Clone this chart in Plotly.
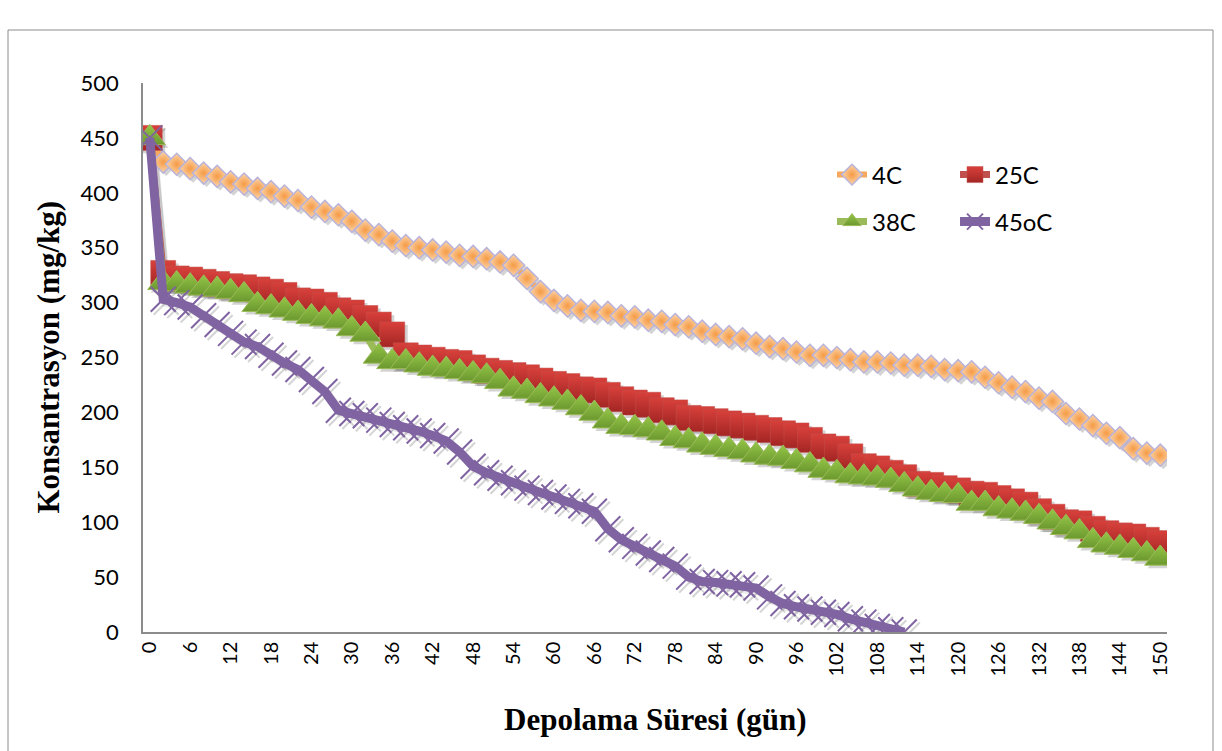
import plotly.graph_objects as go

# ---- data -------------------------------------------------------------
days = list(range(0, 151, 2))                      # storage time (day)
tick_days = list(range(0, 151, 6))
tick_labels = [str(d) for d in tick_days]

c4 = [450, 428, 426, 422, 418, 415, 410, 408, 404, 401,
      397, 393, 387, 383, 380, 374, 366, 362, 356, 352,
      350, 348, 346, 343, 342, 340, 337, 334, 322, 310,
      302, 297, 293, 292, 291, 288, 287, 284, 283, 280,
      278, 274, 271, 269, 267, 263, 260, 258, 255, 252,
      252, 250, 248, 246, 246, 245, 243, 243, 242, 239,
      238, 237, 232, 227, 223, 219, 213, 210, 199, 194,
      188, 181, 177, 167, 163, 161]

c25 = [450, 327, 322, 321, 319, 317, 315, 314, 312, 310,
       307, 302, 301, 298, 293, 291, 286, 280, 271, 252,
       250, 248, 246, 245, 241, 238, 236, 234, 232, 229,
       226, 224, 221, 220, 216, 212, 209, 207, 202, 200,
       195, 194, 192, 190, 188, 186, 184, 181, 179, 175,
       169, 167, 160, 151, 149, 145, 141, 135, 134, 131,
       129, 126, 125, 122, 119, 116, 110, 105, 100, 99,
       94, 90, 88, 87, 84, 81]

c38 = [450, 318, 317, 315, 313, 312, 310, 307, 298, 296,
       293, 290, 287, 285, 283, 276, 271, 251, 246, 246,
       243, 240, 239, 237, 235, 233, 228, 221, 219, 215,
       212, 209, 204, 199, 192, 187, 186, 184, 181, 176,
       174, 170, 168, 166, 164, 161, 159, 158, 155, 152,
       147, 145, 142, 141, 140, 138, 134, 130, 127, 125,
       124, 117, 117, 112, 110, 108, 105, 100, 95, 91,
       83, 79, 77, 74, 71, 67]

c45 = [450, 303, 300, 296, 288, 280, 272, 264, 260, 252,
       245, 239, 230, 219, 202, 199, 197, 193, 189, 186,
       183, 179, 174, 164, 151, 145, 140, 136, 131, 127,
       123, 119, 115, 110, 94, 84, 78, 72, 66, 60,
       50, 46, 45, 44, 43, 40, 32, 26, 23, 21,
       18, 16, 12, 9, 5, 2, 0]
c45 = c45 + [None] * (len(days) - len(c45))

series_names = ["4C", "25C", "38C", "45oC"]

# ---- geometry ---------------------------------------------------------
L, R, T, B = 143, 55, 83, 119
W, H = 1222, 751
pw, ph = W - L - R, H - T - B
XR = [-1, 151]
YR = [0, 500]

def px_x(p):
    return (p - L) / pw

def px_y(p):
    return (H - B - p) / ph

# shadow offset (pixels) -> shift of the shadow axes' ranges
sh = 3.0
dx = sh * (XR[1] - XR[0]) / pw
dy = sh * (YR[1] - YR[0]) / ph

fig = go.Figure()

# ---- soft shadows (same data, drawn on the offset base axes) ----------
shadow = "rgba(60,60,60,0.22)"
for ys, sym, size, lw in [(c4, "diamond", 17, 6), (c25, "square", 25, 7),
                          (c38, "triangle-up", 27, 7), (c45, "x-thin", 25, 9)]:
    fig.add_trace(go.Scatter(
        x=days, y=ys, mode="lines+markers", showlegend=False, hoverinfo="skip",
        line=dict(color="rgba(60,60,60,0.10)", width=lw),
        marker=dict(symbol=sym, size=size, color=shadow,
                    line=dict(color=shadow, width=2 if sym == "x-thin" else 0)),
        xaxis="x", yaxis="y"))

# ---- series -----------------------------------------------------------
fig.add_trace(go.Scatter(
    x=days, y=c4, name=series_names[0], mode="lines+markers",
    line=dict(color="#F6A95E", width=6),
    marker=dict(symbol="diamond", size=17, color="#FCD6AE",
                gradient=dict(type="radial", color="#F59B45"),
                line=dict(color="#B9B3DA", width=1.5)),
    legend="legend", xaxis="x2", yaxis="y2"))

fig.add_trace(go.Scatter(
    x=days, y=c25, name=series_names[1], mode="lines+markers",
    line=dict(color="#C0504D", width=7),
    marker=dict(symbol="square", size=25, color="#D8403B",
                gradient=dict(type="vertical", color="#A32624"),
                line=dict(color="#C0504D", width=0.5)),
    legend="legend2", xaxis="x2", yaxis="y2"))

fig.add_trace(go.Scatter(
    x=days, y=c38, name=series_names[2], mode="lines+markers",
    line=dict(color="#9BBB59", width=7),
    marker=dict(symbol="triangle-up", size=27, color="#95C648",
                gradient=dict(type="vertical", color="#6C982F"),
                line=dict(color="#9BBB59", width=1)),
    legend="legend3", xaxis="x2", yaxis="y2"))

fig.add_trace(go.Scatter(
    x=days, y=c45, name=series_names[3], mode="lines+markers",
    line=dict(color="#8064A2", width=9),
    marker=dict(symbol="x-thin", size=25, color="#8064A2",
                line=dict(color="#8064A2", width=2)),
    legend="legend4", xaxis="x2", yaxis="y2"))

leg_common = dict(bgcolor="rgba(0,0,0,0)", font=dict(family="Lato", size=24, color="#000"),
                  itemsizing="trace", xanchor="left", yanchor="middle",
                  orientation="v", borderwidth=0)

hidden = dict(showgrid=False, zeroline=False, showline=False, showticklabels=False, ticks="")

fig.update_layout(
    width=W, height=H,
    margin=dict(l=L, r=R, t=T, b=B),
    paper_bgcolor="white", plot_bgcolor="white",
    showlegend=True,
    legend=dict(x=px_x(832), y=px_y(175), **leg_common),
    legend2=dict(x=px_x(955), y=px_y(175), **leg_common),
    legend3=dict(x=px_x(832), y=px_y(222), **leg_common),
    legend4=dict(x=px_x(955), y=px_y(222), **leg_common),
    # base axes: offset so the shadow copies sit a few px down-right
    xaxis=dict(range=[XR[0] - dx, XR[1] - dx], **hidden),
    yaxis=dict(range=[YR[0] + dy, YR[1] + dy], **hidden),
    # visible axes
    xaxis2=dict(range=XR, overlaying="x", anchor="y2", side="bottom",
                tickmode="array", tickvals=tick_days, ticktext=tick_labels,
                tickangle=-90, showgrid=False, zeroline=False,
                showline=True, linecolor="#8C8C8C", linewidth=1.5,
                ticks="", tickfont=dict(family="Lato", size=20, color="#000")),
    yaxis2=dict(range=YR, overlaying="y", anchor="x2", side="left",
                tickvals=list(range(0, 501, 50)),
                showgrid=False, zeroline=False,
                showline=True, linecolor="#8C8C8C", linewidth=1.5,
                ticks="", ticklabelstandoff=18,
                tickfont=dict(family="Lato", size=22, color="#000")),
    annotations=[
        dict(text="<b>Depolama Süresi (gün)</b>", xref="paper", yref="paper",
             x=0.5, y=px_y(720), xanchor="center", yanchor="middle", showarrow=False,
             font=dict(family="Liberation Serif", size=31, color="#000")),
        dict(text="<b>Konsantrasyon (mg/kg)</b>", xref="paper", yref="paper",
             x=px_x(48), y=0.5, xanchor="center", yanchor="middle", showarrow=False,
             textangle=-90,
             font=dict(family="Liberation Serif", size=31, color="#000")),
    ],
    shapes=[
        dict(type="rect", xref="paper", yref="paper",
             x0=px_x(8), x1=px_x(1213), y0=px_y(760), y1=px_y(30),
             line=dict(color="#8C8C8C", width=1), fillcolor="rgba(0,0,0,0)", layer="below"),
    ],
)

fig.write_html("out.html")
